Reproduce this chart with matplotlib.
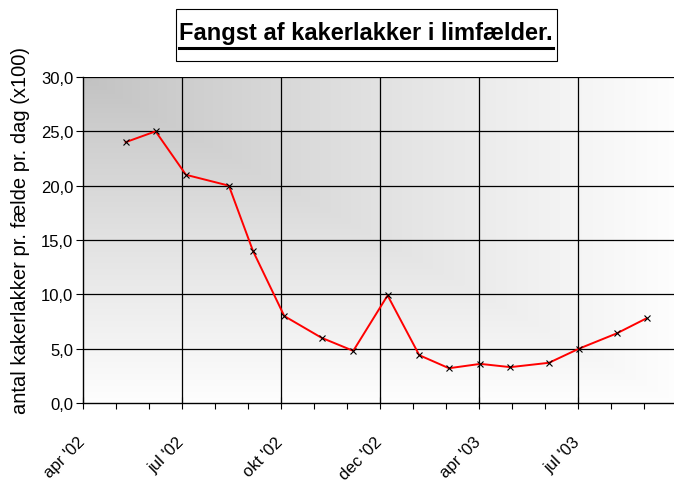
import matplotlib
matplotlib.use("Agg")
import matplotlib.pyplot as plt
import matplotlib.transforms as mtransforms
import numpy as np

# Data: x in months after apr '02 (axis position), y = count per trap per day (x100)
months = [1.29, 2.20, 3.12, 4.42, 5.15, 6.10, 7.23, 8.19, 9.23, 10.19, 11.09,
          12.04, 12.95, 14.12, 15.03, 16.17, 17.08]
values = [24.0, 25.0, 21.0, 20.0, 14.0, 8.0, 6.0, 4.8, 9.9, 4.4, 3.2, 3.6,
          3.3, 3.7, 5.0, 6.4, 7.8]
tick_pos = [0, 3, 6, 9, 12, 15]
tick_labels = ["apr '02", "jul '02", "okt '02", "dec '02", "apr '03", "jul '03"]
y_ticks = [0, 5, 10, 15, 20, 25, 30]

base = 'Liberation Sans'
plt.rcParams['font.family'] = [base, 'DejaVu Sans']

W, H = 674, 481
fig = plt.figure(figsize=(W / 100, H / 100), dpi=100)
fig.patch.set_facecolor('white')
left, right, top, bottom = 83, 677, 78, 404
ax = fig.add_axes([left / W, 1 - bottom / H, (right - left) / W, (bottom - top) / H])

# gradient background (dark top-left corner to white)
nx = np.linspace(0, 1, 300)[None, :]
ny = np.linspace(0, 1, 300)[:, None]
g = 0.76 + 0.235 * np.maximum(nx, ny) ** 0.9
img = np.dstack([g, g, g])
ax.imshow(img, extent=[0, 18, 0, 30], origin='upper', aspect='auto', zorder=0,
          interpolation='bilinear')
ax.set_xlim(0, 18)
ax.set_ylim(0, 30)

for yv in y_ticks[1:]:
    ax.axhline(yv, color='black', lw=0.9, zorder=1)
for xv in tick_pos[1:]:
    ax.axvline(xv, color='black', lw=0.9, zorder=1)

ax.plot(months, values, color='red', lw=1.4, zorder=3)
ax.plot(months, values, ls='none', marker='x', color='black', ms=5, mew=0.8, zorder=4)

ax.set_yticks(y_ticks)
ax.set_yticklabels([f"{v:.1f}".replace('.', ',') for v in y_ticks], fontsize=12)
ax.set_xticks(tick_pos)
ax.set_xticklabels([])
ax.set_xticks(np.arange(0, 19, 1), minor=True)
ax.tick_params(axis='y', direction='out', length=5, width=0.8, pad=2)
ax.tick_params(axis='x', which='major', direction='inout', length=8, width=0.8)
ax.tick_params(axis='x', which='minor', direction='out', length=4, width=0.8)

# rotated x tick labels placed below their ticks
off = mtransforms.ScaledTranslation(-6 / 100, -31 / 100, fig.dpi_scale_trans)
trans = ax.get_xaxis_transform() + off
for p, lab in zip(tick_pos, tick_labels):
    ax.text(p, 0, lab, transform=trans, fontsize=12, rotation=45, ha='right',
            va='top', rotation_mode='anchor', clip_on=False)

for s in ['top', 'right']:
    ax.spines[s].set_visible(False)
for s in ['left', 'bottom']:
    ax.spines[s].set_linewidth(1.0)
    ax.spines[s].set_color('black')

ax.set_ylabel("antal kakerlakker pr. fælde pr. dag (x100)", fontsize=14.5)
ax.yaxis.set_label_coords((30 - left) / (right - left), (bottom - 231) / (bottom - top))

# title
t = fig.text(366 / W, 1 - 40 / H, "Fangst af kakerlakker i limfælder.",
             ha='center', va='baseline', fontsize=17, fontweight='bold',
             family=base)
fig.canvas.draw()
bb = t.get_window_extent()
x0, x1 = bb.x0 / W, bb.x1 / W
fig.add_artist(plt.Line2D([x0, x1], [1 - 49 / H, 1 - 49 / H], color='black', lw=2.2,
                          transform=fig.transFigure))
fig.add_artist(plt.Rectangle((176 / W, 1 - 62 / H), (557 - 176) / W, 52 / H,
                             fill=False, edgecolor='black', lw=0.8,
                             transform=fig.transFigure))

fig.savefig("out.png", dpi=100)
